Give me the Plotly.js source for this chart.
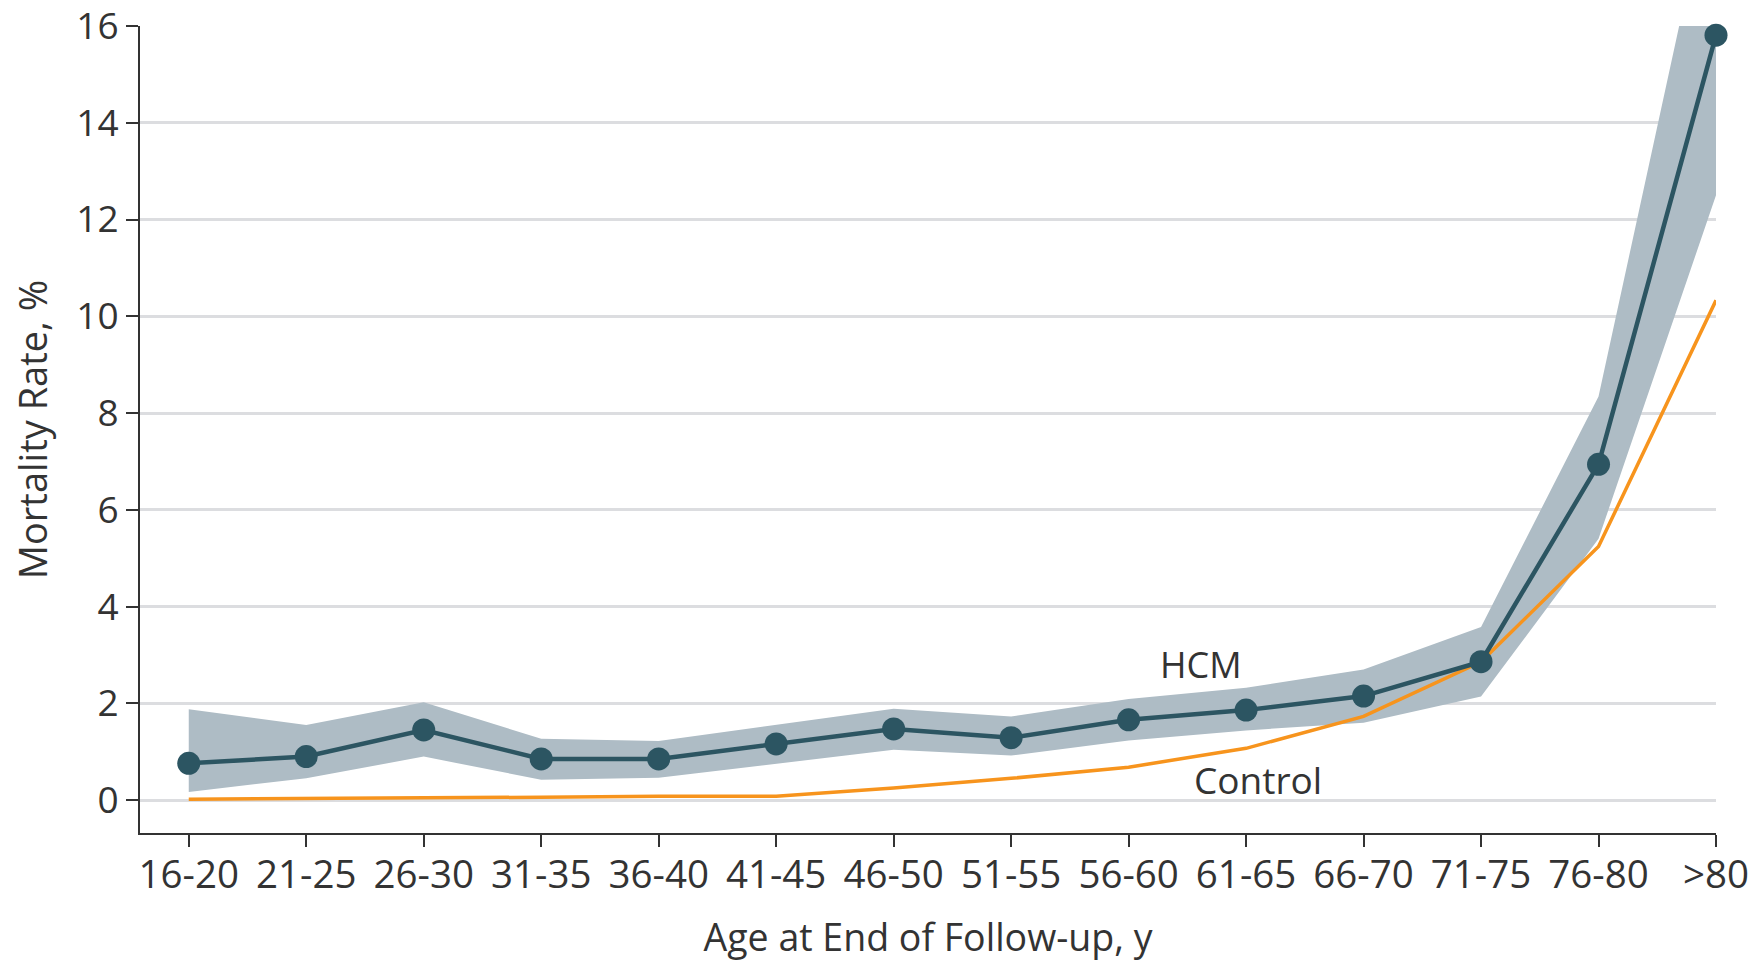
<!DOCTYPE html>
<html>
<head>
<meta charset="utf-8">
<script src="https://cdn.plot.ly/plotly-3.0.1.min.js"></script>
<style>html,body{margin:0;padding:0;background:#fff;}#chart{width:1761px;height:964px;}</style>
</head>
<body>
<div id="chart"></div>
<script>
const ageGroups = ["16-20","21-25","26-30","31-35","36-40","41-45","46-50","51-55","56-60","61-65","66-70","71-75","76-80",">80"];
const hcmRate   = [0.76, 0.90, 1.45, 0.85, 0.85, 1.16, 1.47, 1.29, 1.66, 1.86, 2.15, 2.86, 6.94, 15.81];
const hcmUpper  = [1.88, 1.55, 2.02, 1.27, 1.22, 1.56, 1.89, 1.73, 2.09, 2.32, 2.70, 3.58, 8.34, 19.5];
const hcmLower  = [0.17, 0.45, 0.90, 0.42, 0.46, 0.75, 1.04, 0.92, 1.23, 1.44, 1.60, 2.14, 5.40, 12.5];
const controlRate = [0.02, 0.03, 0.04, 0.06, 0.08, 0.08, 0.25, 0.45, 0.68, 1.07, 1.73, 2.86, 5.24, 10.33];
const yTicks = [0, 2, 4, 6, 8, 10, 12, 14, 16];

const idx = ageGroups.map((_, i) => i);
const FONT = "'Open Sans', 'Noto Sans', sans-serif";
const TXT = "#333333";

const band = {
  x: idx.concat(idx.slice().reverse()),
  y: hcmUpper.concat(hcmLower.slice().reverse()),
  type: "scatter", mode: "lines", fill: "toself",
  fillcolor: "#aebcc5", line: {width: 0, color: "#aebcc5"},
  hoverinfo: "skip", showlegend: false
};
const control = {
  x: idx, y: controlRate, type: "scatter", mode: "lines",
  line: {color: "#f7941d", width: 3.5}, showlegend: false, name: "Control"
};
const hcm = {
  x: idx, y: hcmRate, type: "scatter", mode: "lines+markers",
  line: {color: "#2c5562", width: 4.5},
  marker: {color: "#2c5562", size: 23},
  cliponaxis: false, showlegend: false, name: "HCM"
};

const layout = {
  width: 1761, height: 964,
  margin: {l: 140, r: 45, t: 26, b: 131},
  paper_bgcolor: "#ffffff", plot_bgcolor: "#ffffff",
  font: {family: FONT, color: TXT, size: 38},
  showlegend: false,
  xaxis: {
    range: [-0.415, 13],
    tickmode: "array", tickvals: idx, ticktext: ageGroups,
    showgrid: false, zeroline: false,
    showline: true, linecolor: "#333333", linewidth: 2,
    ticks: "outside", ticklen: 12, tickwidth: 2, tickcolor: "#333333",
    tickfont: {family: FONT, size: 38.5, color: TXT},
    ticklabelstandoff: -5, ticklabeloverflow: "allow",
    title: {text: "Age at End of Follow-up, y", font: {family: FONT, size: 37.5, color: TXT}, standoff: 27},
    automargin: false, fixedrange: true
  },
  yaxis: {
    range: [-0.68, 16],
    tickmode: "array", tickvals: yTicks,
    showgrid: true, gridcolor: "#dcdde0", gridwidth: 3,
    zeroline: false,
    showline: true, linecolor: "#333333", linewidth: 2,
    ticks: "outside", ticklen: 12, tickwidth: 2, tickcolor: "#333333",
    tickfont: {family: FONT, size: 37, color: TXT},
    ticklabeloverflow: "allow",
    title: {text: "Mortality Rate, %", font: {family: FONT, size: 38, color: TXT}, standoff: 17},
    automargin: false, fixedrange: true
  },
  annotations: [
    {x: 8.62, y: 2.81, xref: "x", yref: "y", text: "HCM", showarrow: false,
     font: {family: FONT, size: 36, color: TXT}},
    {x: 9.10, y: 0.42, xref: "x", yref: "y", text: "Control", showarrow: false,
     font: {family: FONT, size: 37, color: TXT}}
  ]
};

Plotly.newPlot("chart", [band, control, hcm], layout, {staticPlot: true, displayModeBar: false});
</script>
</body>
</html>
